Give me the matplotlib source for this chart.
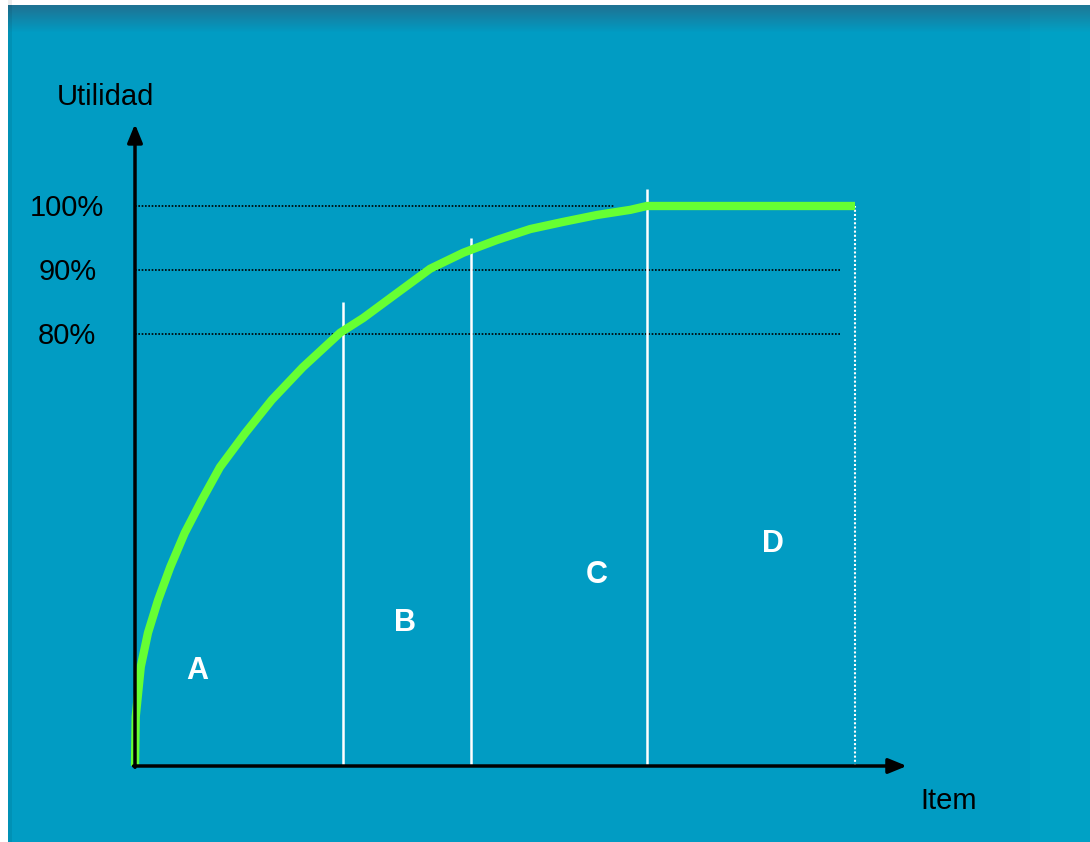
import numpy as np
import matplotlib
matplotlib.use("Agg")
from matplotlib import pyplot as plt

# curva ABC (utilidad acumulada vs % de items)
item_pct = [0, 0.1, 0.8, 1.8, 3.2, 4.9, 6.9, 9.3, 11.8, 15.3, 19.0, 23.3, 28.5,
            31.7, 36.4, 41.0, 45.6, 50.3, 54.9, 59.4, 64.2, 68.8, 71.1, 100]
utilidad = [12.5, 20.2, 28.0, 33.3, 38.4, 43.6, 48.9, 54.1, 59.2, 64.5, 69.7, 74.8, 80.2,
            82.5, 86.4, 90.2, 92.7, 94.7, 96.4, 97.5, 98.6, 99.4, 100, 100]

niveles = [100, 90, 80]
niveles_lbl = ['100%', '90%', '80%']
cortes = [28.9, 46.7, 71.1]          # lineas blancas entre zonas
cortes_top = [85.0, 95.0, 102.7]     # altura a la que llegan
zonas = ['A', 'B', 'C', 'D']
zonas_x = [8.6, 37.5, 64.2, 88.6]
zonas_y = [27.3, 34.8, 42.3, 47.2]

verde = '#66ff33'
fuente = 'Liberation Sans'

W, H = 1090, 842
fig = plt.figure(figsize=(W / 100, H / 100), dpi=100)
fig.patch.set_facecolor('white')
ax = fig.add_axes([0, 0, 1, 1])
ax.set_xlim(-135 / 7.2, (W - 135) / 7.2)
ax.set_ylim((846 - H) / 6.4, 846 / 6.4)
ax.axis('off')

# fondo con un poco de degradado arriba
img = np.ones((H, W, 3))
base = np.array([1, 156, 195]) / 255
dark = np.array([30, 115, 148]) / 255
for r in range(H):
    t = 0 if r < 6 else min(1, (r - 6) / 26.0)
    img[r, :] = dark * (1 - t) + base * t
img[:, 1030:] = img[:, 1030:] * 0.97 + np.array([0, 10, 8]) / 255
img[:5, :] = 1
img[:, :8] = 1
img[:, 8:12] = img[:, 8:12] * 0.93
x0, x1 = ax.get_xlim()
y0, y1 = ax.get_ylim()
ax.imshow(np.clip(img, 0, 1), extent=(x0, x1, y0, y1), aspect='auto', zorder=0)

# lineas punteadas horizontales
ax.hlines(niveles[0], 0, 66.5, colors='black', linestyles=(0, (1, 1)), lw=1.2, zorder=2)
ax.hlines(niveles[1:], 0, 97.9, colors='black', linestyles=(0, (1, 1)), lw=1.2, zorder=2)
for v, t in zip(niveles, niveles_lbl):
    ax.text(-9.4, v - 0.3, t, ha='center', va='center', fontsize=21,
            family=fuente, color='black')

# cortes entre zonas
ax.vlines(cortes, 12.5, cortes_top, colors='white', lw=1.8, zorder=2)
ax.vlines(100, 12.5, 100, colors='white', linestyles=(0, (1, 1)), lw=1.5, zorder=2)

# curva
ax.plot(item_pct, utilidad, color=verde, lw=6, solid_capstyle='butt',
        solid_joinstyle='round', zorder=3)

# ejes con flechas
ax.annotate('', xy=(107.2, 12.5), xytext=(-0.2, 12.5),
            arrowprops=dict(arrowstyle='-|>,head_length=1.1,head_width=0.45', color='black', lw=2.5,
                            shrinkA=0, shrinkB=0), zorder=4)
ax.annotate('', xy=(0, 112.8), xytext=(0, 12.3),
            arrowprops=dict(arrowstyle='-|>,head_length=1.1,head_width=0.45', color='black', lw=2.5,
                            shrinkA=0, shrinkB=0), zorder=4)

ax.text(-10.8, 117.0, 'Utilidad', ha='left', va='center', fontsize=21, family=fuente)
ax.text(109.1, 7.1, 'Item', ha='left', va='center', fontsize=21, family=fuente)

for z, x, y in zip(zonas, zonas_x, zonas_y):
    ax.text(x, y, z, ha='center', va='center', fontsize=22, color='white',
            fontweight='bold', family=fuente)

fig.savefig('out.png', dpi=100, facecolor=fig.get_facecolor())
